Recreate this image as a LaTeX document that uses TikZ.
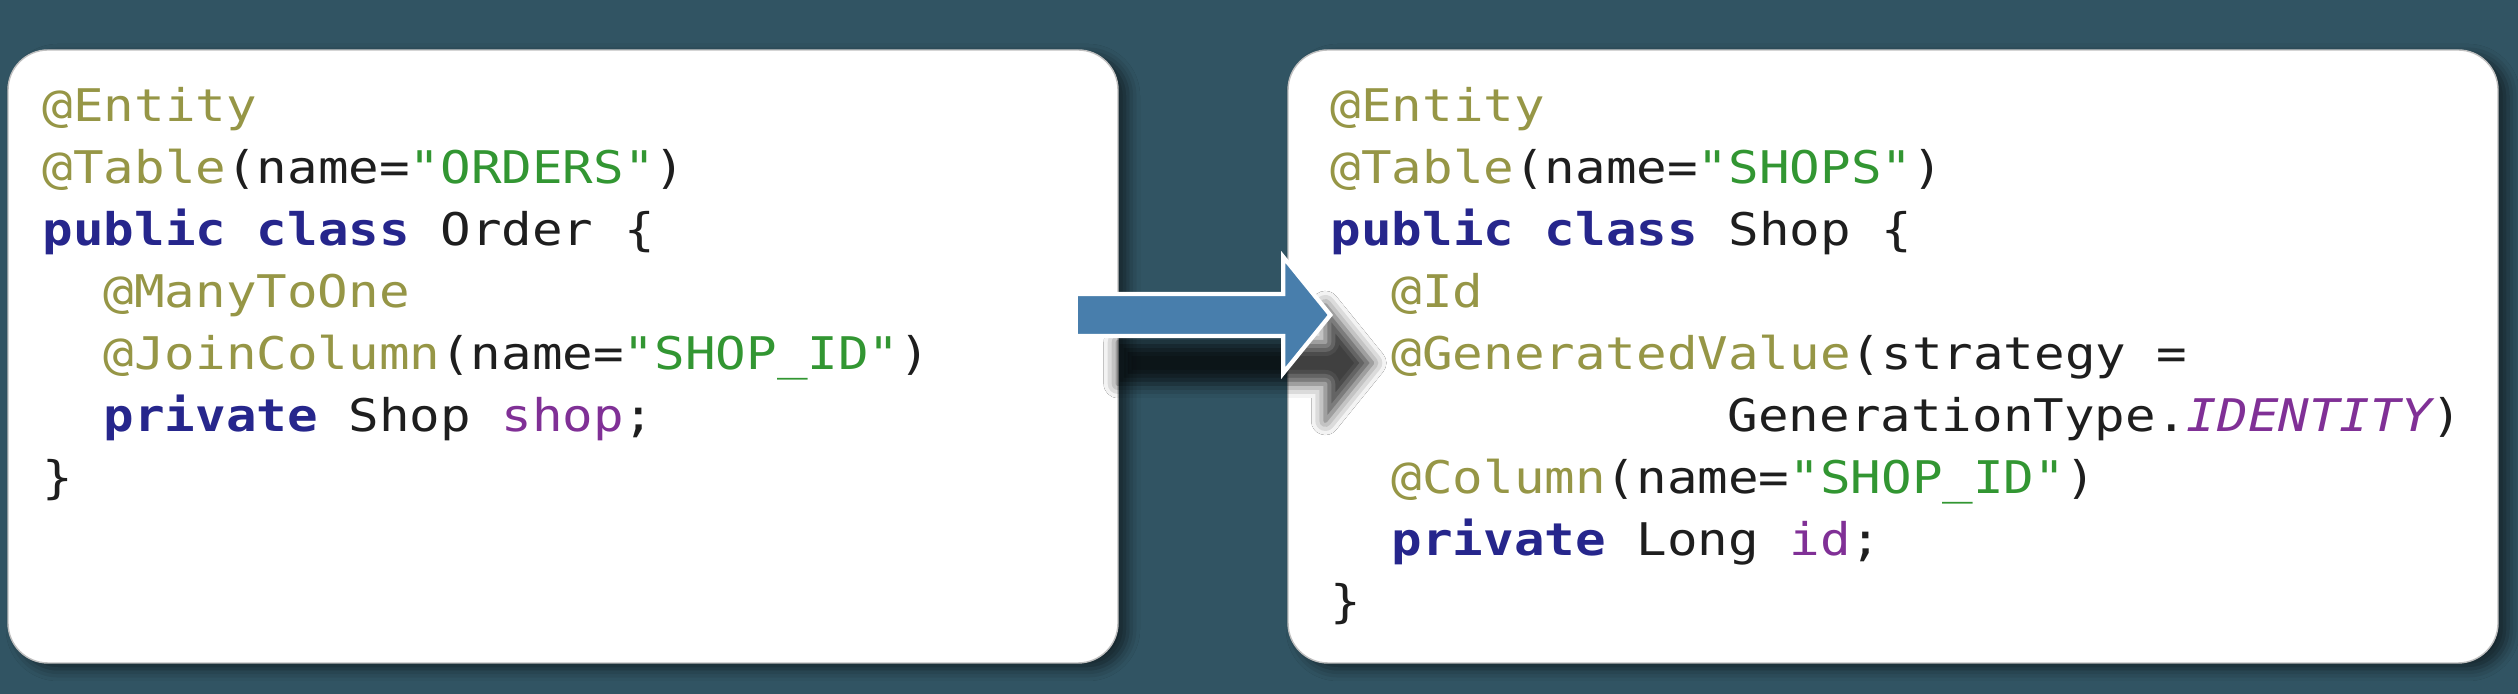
\documentclass[tikz,border=0pt]{standalone}
\usepackage{fontspec}
\usepackage{xcolor}
\usepackage{tikz}
\usetikzlibrary{calc,shadows.blur}
\newfontfamily\codefont[FakeStretch=1.13,Ligatures=TeXOff]{DejaVu Sans Mono}
\definecolor{slate}{RGB}{49,84,99}
\definecolor{annot}{RGB}{150,150,70}
\definecolor{kwblue}{RGB}{38,38,140}
\definecolor{strgreen}{RGB}{50,150,50}
\definecolor{fieldpurple}{RGB}{128,48,150}
\definecolor{plaintext}{RGB}{30,30,30}
\definecolor{arrowblue}{RGB}{72,126,172}
\newcommand{\annot}[1]{\textcolor{annot}{#1}}
\newcommand{\kwd}[1]{\textcolor{kwblue}{\bfseries #1}}
\newcommand{\strlit}[1]{\textcolor{strgreen}{#1}}
\newcommand{\fld}[1]{\textcolor{fieldpurple}{#1}}

\begin{document}
\begin{tikzpicture}[line cap=round,line join=round,x=1cm,y=1cm,
	codebox/.style={fill=white,draw=black!25,line width=0.4pt,rounded corners=0.4cm,inner sep=0pt,
		blur shadow={shadow xshift=0.1cm,shadow yshift=-0.06cm,shadow blur radius=0.12cm,shadow opacity=55}},
	code/.style={anchor=base west,inner sep=0pt,text=plaintext,font=\codefont\fontsize{12.8}{15}\selectfont},
	maparrow/.style={fill=arrowblue,draw=white,line width=1.2pt,line join=miter,
		blur shadow={shadow xshift=0.42cm,shadow yshift=-0.48cm,shadow blur radius=0.14cm,shadow opacity=75}}]
			\useasboundingbox (0,0) rectangle (25.18,6.94);
			\fill[slate] (0,0) rectangle (25.18,6.94);
			\node[codebox,minimum width=11.10cm,minimum height=6.13cm] (orders) at (5.63,3.375) {};
			\node[codebox,minimum width=12.10cm,minimum height=6.13cm] (shops) at (18.93,3.375) {};
			% arrow from Order to Shop
			\coordinate (tail) at ([xshift=-0.43cm,yshift=0.415cm]orders.east);
			\coordinate (tip) at ([xshift=0.43cm,yshift=0.415cm]shops.west);
			\filldraw[maparrow] ($(tail)+(0,0.21)$) -- ($(tip)+(-0.47,0.21)$) -- ($(tip)+(-0.47,0.58)$) -- (tip)
				-- ($(tip)+(-0.47,-0.58)$) -- ($(tip)+(-0.47,-0.21)$) -- ($(tail)+(0,-0.21)$) -- cycle;
			% Order
			\node[code] (o1) at (0.42,5.72) {\annot{@Entity}};
			\node[code] (o2) at (0.42,5.10) {\annot{@Table}(name=\strlit{"ORDERS"})};
			\node[code] (o3) at (0.42,4.48) {\kwd{public} \kwd{class} Order \{};
			\node[code] (o4) at (1.03,3.86) {\annot{@ManyToOne}};
			\node[code] (o5) at (1.03,3.24) {\annot{@JoinColumn}(name=\strlit{"SHOP\_ID"})};
			\node[code] (o6) at (1.03,2.62) {\kwd{private} Shop \fld{shop};};
			\node[code] (o7) at (0.42,2.00) {\}};
			% Shop
			\node[code] (s1) at (13.30,5.72) {\annot{@Entity}};
			\node[code] (s2) at (13.30,5.10) {\annot{@Table}(name=\strlit{"SHOPS"})};
			\node[code] (s3) at (13.30,4.48) {\kwd{public} \kwd{class} Shop \{};
			\node[code] (s4) at (13.91,3.86) {\annot{@Id}};
			\node[code] (s5) at (13.91,3.24) {\annot{@GeneratedValue}(strategy =};
			\node[code] (s6) at (17.27,2.62) {GenerationType.\fld{\itshape IDENTITY})};
			\node[code] (s7) at (13.91,2.00) {\annot{@Column}(name=\strlit{"SHOP\_ID"})};
			\node[code] (s8) at (13.91,1.38) {\kwd{private} Long \fld{id};};
			\node[code] (s9) at (13.30,0.76) {\}};
\end{tikzpicture}
\end{document}
